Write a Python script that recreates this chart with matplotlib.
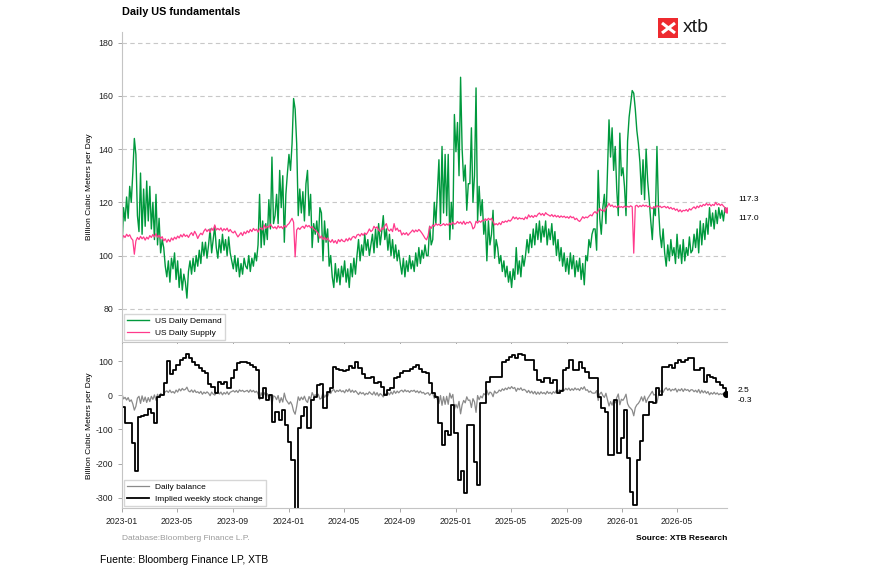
import numpy as np
import pandas as pd
import matplotlib
matplotlib.use('Agg')
import matplotlib.pyplot as plt
import matplotlib.dates as mdates
from matplotlib.patches import Rectangle
from matplotlib.lines import Line2D

plt.rcParams['font.family'] = ['Liberation Sans', 'DejaVu Sans']
plt.rcParams['axes.unicode_minus'] = False

# daily demand / supply, ~9 readings per month (Jan 2023 -> mid Aug 2026)
demand = [
    102, 118, 113, 122, 114, 126, 120, 131, 144,
    138, 115, 109, 131, 108, 125, 111, 128, 113,
    126, 110, 120, 106, 123, 104, 114, 101, 106,
    103, 96, 92, 98, 90, 99, 95, 101, 91,
    98, 88, 95, 87, 93, 90, 84, 94, 98,
    93, 99, 94, 100, 96, 102, 97, 105, 100,
    105, 99, 104, 110, 101, 106, 111, 103, 99,
    106, 101, 108, 102, 106, 100, 107, 101, 98,
    95, 100, 94, 99, 92, 97, 93, 99, 96,
    95, 100, 94, 99, 96, 101, 98, 104, 123,
    103, 113, 104, 112, 106, 121, 110, 137, 112,
    115, 123, 112, 132, 118, 130, 105, 123, 131,
    138, 132, 142, 159, 155, 142, 115, 125, 116,
    124, 113, 127, 132, 115, 123, 103, 112, 108,
    113, 105, 118, 116, 98, 113, 105, 110, 96,
    100, 92, 88, 97, 90, 95, 89, 96, 92,
    98, 90, 95, 88, 97, 92, 99, 93, 100,
    106, 98, 104, 100, 108, 102, 106, 100, 104,
    108, 101, 110, 103, 112, 104, 109, 115, 106,
    110, 102, 108, 100, 106, 99, 104, 98, 102,
    97, 93, 99, 92, 98, 94, 100, 95, 98,
    94, 101, 96, 103, 97, 102, 99, 104, 100,
    100, 111, 104, 106, 120, 112, 124, 136, 112,
    141, 116, 138, 115, 138, 106, 120, 110, 153,
    139, 150, 130, 167, 140, 128, 134, 117, 127,
    127, 148, 120, 130, 163, 113, 126, 115, 121,
    108, 113, 98, 113, 104, 108, 117, 99, 106,
    103, 97, 100, 94, 98, 92, 96, 90, 94,
    88, 95, 91, 103, 93, 98, 92, 100, 96,
    100, 106, 101, 108, 103, 110, 104, 112, 106,
    113, 105, 111, 107, 113, 104, 110, 106, 112,
    104, 109, 100, 106, 98, 103, 96, 101, 94,
    99, 93, 101, 95, 100, 92, 98, 94, 99,
    91, 97, 89, 100, 98, 106, 103, 108, 110,
    110, 102, 132, 114, 108, 118, 123, 112, 132,
    151, 137, 148, 132, 141, 125, 115, 146, 130,
    133, 126, 115, 143, 152, 157, 162, 161, 155,
    147, 142, 135, 123, 136, 121, 140, 128, 121,
    113, 106, 118, 115, 141, 118, 108, 103, 110,
    101, 96, 104, 98, 106, 100, 103, 97, 108,
    99, 104, 97, 106, 98, 103, 100, 107, 101,
    102, 108, 103, 110, 101, 113, 104, 112, 106,
    114, 108, 118, 111, 116, 110, 117, 112, 118,
    114, 117, 113, 118, 117.3,
]

supply = [
    106.0, 107.5, 106.8, 108.0, 107.2, 107.8, 106.5, 105.8, 100.5,
    105.5, 106.8, 106.0, 107.2, 106.3, 107.0, 105.8, 106.9, 106.2,
    107.5, 106.8, 107.9, 107.0, 108.2, 106.9, 107.6, 106.4, 107.1,
    105.5, 106.3, 105.0, 106.1, 105.2, 106.6, 105.8, 106.9, 106.2,
    107.3, 106.6, 107.8, 107.0, 108.1, 107.2, 107.7, 106.8, 107.9,
    108.6, 107.5, 109.1, 108.0, 106.4, 107.6, 108.4, 107.8, 109.2,
    110.0, 109.0, 109.8, 108.7, 110.3, 109.4, 111.5, 109.6, 110.2,
    109.6, 110.4, 109.2, 110.1, 109.5, 110.3, 109.0, 109.8, 108.9,
    108.5, 109.2, 108.0, 107.0, 107.8, 108.6, 107.5, 108.9, 108.2,
    109.3, 108.6, 109.8, 109.0, 110.2, 109.4, 109.9, 108.8, 110.0,
    110.4, 109.6, 111.5, 110.2, 111.0, 110.6, 111.8, 110.9, 110.3,
    110.8, 110.0, 111.2, 110.4, 110.9, 110.1, 111.3, 110.6, 111.5,
    112.0, 113.0, 114.0, 112.5, 99.5, 109.6, 110.4, 109.8, 110.6,
    111.0, 110.2, 111.5, 110.8, 111.3, 110.4, 110.9, 110.0, 109.5,
    109.0, 108.2, 106.5, 107.4, 106.0, 106.9, 105.8, 106.6, 105.6,
    105.0, 106.0, 104.8, 105.6, 104.5, 106.0, 105.2, 106.1, 105.4,
    105.2, 106.3, 105.5, 106.6, 105.8, 106.9, 107.2, 106.5, 107.7,
    108.0, 107.3, 108.3, 107.6, 108.5, 107.9, 108.8, 110.0, 109.0,
    109.5, 111.0, 110.2, 110.8, 109.6, 109.0, 110.4, 109.8, 111.2,
    112.0, 109.8, 109.2, 110.0, 109.0, 112.0, 109.5, 110.3, 109.1,
    109.5, 107.7, 108.5, 107.9, 108.6, 107.6, 108.3, 108.9, 109.6,
    108.8, 109.6, 109.0, 109.8, 109.2, 108.4, 107.5, 106.5, 105.9,
    107.5, 110.9, 110.2, 111.5, 111.0, 112.0, 111.4, 111.8, 111.2,
    111.5, 112.0, 111.3, 111.9, 111.4, 112.2, 111.6, 112.5, 111.8,
    112.0, 112.8, 112.1, 112.6, 111.8, 112.9, 111.7, 112.5, 112.2,
    112.8, 112.0, 110.0, 110.6, 112.9, 112.2, 113.0, 112.5, 113.2,
    113.0, 113.8, 113.2, 114.0, 113.4, 114.0, 112.8, 111.5, 112.0,
    111.5, 112.3, 111.6, 112.8, 112.4, 113.0, 112.6, 113.3, 112.9,
    113.5, 114.6, 113.8, 114.4, 113.6, 114.2, 113.8, 114.0, 113.5,
    114.5, 113.8, 115.3, 114.4, 115.0, 114.3, 115.1, 114.6, 115.5,
    116.0, 115.2, 115.8, 115.0, 116.1, 115.5, 115.2, 114.8, 115.4,
    114.6, 115.2, 114.5, 115.0, 114.3, 114.9, 114.4, 114.8, 114.2,
    114.6, 114.0, 114.8, 114.2, 114.5, 113.5, 114.0, 113.2, 112.8,
    113.6, 114.6, 114.0, 114.5, 114.2, 114.8, 115.3, 114.9, 116.0,
    116.5, 115.8, 116.8, 117.7, 116.9, 117.2, 116.5, 117.8, 118.5,
    119.6, 118.5, 119.0, 118.2, 118.6, 118.0, 118.7, 118.1, 118.4,
    118.0, 118.6, 118.1, 118.5, 118.2, 118.7, 118.3, 100.9, 118.6,
    118.9, 118.2, 118.8, 118.4, 119.0, 118.5, 118.9, 118.3, 118.6,
    118.0, 117.6, 118.4, 117.9, 118.8, 118.2, 118.6, 118.0, 118.3,
    118.5, 117.9, 118.4, 117.6, 118.1, 117.4, 117.8, 117.0, 117.5,
    116.5, 117.2, 116.4, 117.0, 116.8, 117.3, 116.6, 117.6, 117.1,
    117.8, 118.3, 117.6, 118.6, 118.0, 118.9, 118.4, 119.2, 118.8,
    119.6, 118.9, 119.4, 118.6, 119.2, 118.8, 120.0, 119.0, 119.5,
    118.8, 119.3, 118.6, 118.0, 117.0,
]

# implied weekly stock change, one value per week from 2023-01-01
stock_change = [
    -35, -82, -82, -140, -223, -63, -60, -58, -40, -53,
    -80, -4, 0, 35, 100, 61, 74, 90, 103, 108,
    120, 108, 98, 88, 79, 70, 64, 33, 25, 6,
    40, 33, 38, 22, 50, 74, 93, 98, 98, 93,
    90, 84, 74, -9, 20, -14, 0, -77, -48, -73,
    -43, -87, -136, -190, -340, -96, -62, -33, -96, -15,
    -5, 30, 32, -38, 10, 20, 84, 77, 75, 71,
    75, 87, 81, 98, 79, 61, 50, 50, 54, 35,
    38, 25, 1, 15, 20, 50, 54, 64, 71, 71,
    77, 84, 89, 77, 69, 64, 35, 6, -4, -82,
    -145, -106, -116, -28, -111, -248, -223, -287, -87, -87,
    -194, -262, -24, -24, 40, 54, 54, 54, 54, 98,
    103, 113, 118, 108, 120, 118, 103, 103, 103, 74,
    45, 40, 50, 50, 35, 45, 6, 11, 74, 79,
    103, 74, 74, 98, 79, 69, 50, 50, 50, -4,
    -38, -48, -175, -175, -14, -170, -126, -43, -184, -282,
    -320, -189, -135, -58, -58, -19, -24, 20, 1, 84,
    84, 89, 79, 93, 103, 98, 103, 108, 110, 74,
    74, 79, 40, 59, 54, 50, 40, 30, 20, 2.5,
]

daily_dates = pd.date_range('2023-01-01', '2026-08-17', periods=len(demand))
week_dates = pd.date_range('2023-01-01', periods=len(stock_change), freq='7D')
balance = np.array(supply) - np.array(demand)

GREEN = '#00993d'
PINK = '#ff3a8c'
SPINE = '#c4c4c4'

fig = plt.figure(figsize=(8.7, 5.8), dpi=100)
ax1 = fig.add_axes([0.1402, 0.4103, 0.6954, 0.5345])
ax2 = fig.add_axes([0.1402, 0.1241, 0.6954, 0.2828], sharex=ax1)

# top panel
ax1.plot(daily_dates, demand, color=GREEN, lw=1.0, label='US Daily Demand')
ax1.plot(daily_dates, supply, color=PINK, lw=0.9, label='US Daily Supply')
ax1.plot(daily_dates[-1], supply[-1], 'o', color=PINK, ms=3.5)
ax1.set_ylim(67.5, 184)
ax1.set_yticks([80, 100, 120, 140, 160, 180])
ax1.yaxis.grid(True, linestyle=(0, (4, 3)), color='#c8c8c8', lw=0.8)
ax1.set_ylabel('Billion Cubic Meters per Day', fontsize=6)
ax1.legend(loc='lower left', fontsize=6, fancybox=False, edgecolor='#cccccc',
           borderaxespad=0.2, handlelength=2.6)

# bottom panel
ax2.plot(daily_dates, balance, color='#8a8a8a', lw=0.9, label='Daily balance')
ax2.plot(week_dates, stock_change, color='black', lw=1.3, drawstyle='steps-post',
         label='Implied weekly stock change')
ax2.plot(week_dates[-1], stock_change[-1], 'o', color='black', ms=4)
ax2.set_ylim(-330, 150)
ax2.set_yticks([-300, -200, -100, 0, 100])
ax2.set_ylabel('Billion Cubic Meters per Day', fontsize=6)
ax2.legend(loc='lower left', fontsize=6, fancybox=False, edgecolor='#cccccc',
           borderaxespad=0.2, handlelength=2.6)

ax2.set_xlim(pd.Timestamp('2023-01-01'), pd.Timestamp('2026-08-18'))
ax2.xaxis.set_major_locator(mdates.MonthLocator(bymonth=[1, 5, 9]))
ax2.xaxis.set_major_formatter(mdates.DateFormatter('%Y-%m'))

for ax in (ax1, ax2):
    for s in ('top', 'right'):
        ax.spines[s].set_visible(False)
    for s in ('left', 'bottom'):
        ax.spines[s].set_color(SPINE)
        ax.spines[s].set_linewidth(0.8)
    ax.tick_params(labelsize=6.3, color='#999999', length=3, width=0.6, labelcolor='#222222')
    ax.yaxis.set_label_coords(-0.048, 0.5)
ax1.tick_params(axis='x', labelbottom=False)

# end-value labels
fig.text(738 / 870, 1 - 199 / 580, f'{demand[-1]:.1f}', fontsize=6, va='center')
fig.text(738 / 870, 1 - 219 / 580, f'{supply[-1]:.1f}', fontsize=6, va='center')
fig.text(738 / 870, 1 - 390 / 580, f'{stock_change[-1]:.1f}', fontsize=6, va='center')
fig.text(738 / 870, 1 - 401 / 580, f'{balance[-1]:.1f}', fontsize=6, va='center')

# title and logo
fig.text(122 / 870, 1 - 12 / 580, 'Daily US fundamentals', fontsize=7.8,
         fontweight='bold', va='center')
fig.add_artist(Rectangle((658 / 870, 1 - 38 / 580), 20 / 870, 20 / 580,
                         transform=fig.transFigure, color='#ee2a2f', lw=0))
for (x0, y0, x1, y1) in [(662, 23, 675, 33), (662, 33, 675, 23)]:
    fig.add_artist(Line2D([x0 / 870, x1 / 870], [1 - y0 / 580, 1 - y1 / 580],
                          transform=fig.transFigure, color='white', lw=2.2,
                          solid_capstyle='butt'))
fig.text(683 / 870, 1 - 28 / 580, 'xtb', fontsize=14, color='#1a1a1a', va='center')

# footer
fig.text(122 / 870, 1 - 539 / 580, 'Database:Bloomberg Finance L.P.', fontsize=6,
         color='#9a9a9a', va='center')
fig.text(727 / 870, 1 - 539 / 580, 'Source: XTB Research', fontsize=6,
         fontweight='bold', ha='right', va='center')
fig.text(100 / 870, 1 - 560 / 580, 'Fuente: Bloomberg Finance LP, XTB', fontsize=7.5,
         va='center')

fig.savefig('out.png', dpi=100)
